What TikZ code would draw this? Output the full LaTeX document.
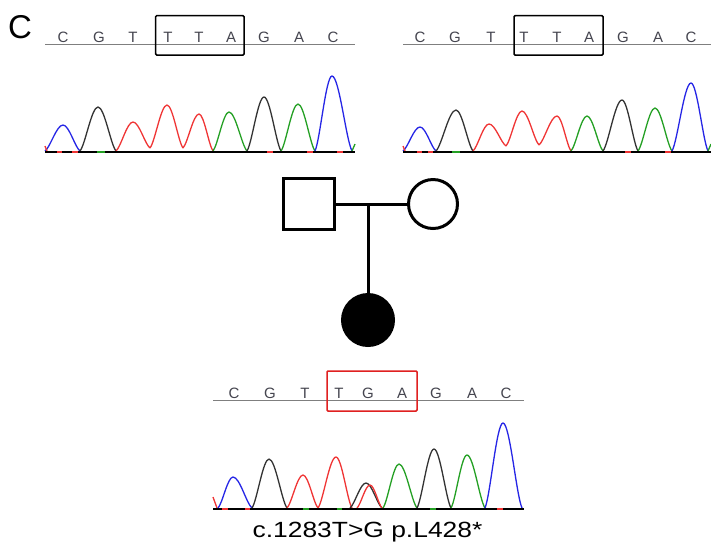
\documentclass[tikz,border=0pt]{standalone}
\usepackage{fontspec}
\setmainfont{Liberation Sans}
\definecolor{tblue}{HTML}{2626E6}
\definecolor{tblack}{HTML}{333333}
\definecolor{tred}{HTML}{F03535}
\definecolor{tgreen}{HTML}{24A024}
\definecolor{tgray}{HTML}{7F7F7F}
\definecolor{tlet}{HTML}{45454F}
\definecolor{tbox}{HTML}{E02020}
\newcommand\pk[7]{%
 \pgfmathsetmacro\pkda{#4-#2}\pgfmathsetmacro\pkdb{#6-#4}%
 \pgfmathsetmacro\pkax{#2+0.3*\pkda}\pgfmathsetmacro\pkay{#3+0.15*(#5-#3)}%
 \pgfmathsetmacro\pkbx{#4-0.36*\pkda}%
 \pgfmathsetmacro\pkcx{#4+0.36*\pkdb}%
 \pgfmathsetmacro\pkdx{#6-0.3*\pkdb}\pgfmathsetmacro\pkdy{#7+0.15*(#5-#7)}%
 \draw[peak,#1] (#2,#3) .. controls (\pkax,\pkay) and (\pkbx,#5) .. (#4,#5) .. controls (\pkcx,#5) and (\pkdx,\pkdy) .. (#6,#7);}
\tikzset{
 peak/.style={line width=1.3pt, line join=round},
 seqline/.style={tgray, line width=1.5pt},
 base/.style={black, line width=2.6pt},
 tick/.style={line width=1.6pt},
 let/.style={font=\fontsize{15}{15}\selectfont, text=tlet, anchor=base, inner sep=0pt},
 codon/.style={line width=1.5pt, rounded corners=1pt},
 ped/.style={draw, line width=3pt, inner sep=0pt},
}
\begin{document}
\begin{tikzpicture}[x=1pt,y=-1pt]
\useasboundingbox[fill=white] (0,0) rectangle (711,550);
\node[font=\fontsize{33}{33}\selectfont, anchor=base, inner sep=0pt] (lab) at (20,38) {C};
% ---------- top-left trace
\draw[seqline] (45,44.5) -- (355,44.5);
\foreach \x/\l [count=\i] in {63/C,99/G,133/T,168/T,199/T,231/A,264/G,299/A,333/C}
  \node[let] (tl\i) at (\x,42.5) {\l};
\draw[codon] (155.7,15.7) rectangle (244,55);
\pk{tblue}{45}{151}{63}{125}{80}{151}
\pk{tblack}{80}{151}{98}{107}{116}{151}
\pk{tred}{116}{151}{133}{122}{150}{148}
\pk{tred}{150}{148}{167}{105}{183}{148}
\pk{tred}{183}{148}{199}{114}{213}{151}
\pk{tgreen}{213}{151}{229}{112}{247}{151}
\pk{tblack}{247}{151}{264}{97}{281}{151}
\pk{tgreen}{281}{151}{298}{104}{315}{151}
\pk{tblue}{315}{151}{332}{76}{352}{151}
\draw[peak,tgreen] (352,151) -- (355,144);
\draw[peak,tred] (45,146) -- (47,151);
\draw[base] (45,152) -- (355,152);
\foreach \a/\b/\c in {57/62/tred,72/78/tred,97/105/tgreen,267/273/tred,307/313/tred,337/343/tred}
  \draw[tick,\c] (\a,152) -- (\b,152);
% ---------- top-right trace
\draw[seqline] (403,44.5) -- (711,44.5);
\foreach \x/\l [count=\i] in {420/C,455/G,491/T,524/T,557/T,589/A,623/G,658/A,691/C}
  \node[let] (tr\i) at (\x,42.5) {\l};
\draw[codon] (514,15.7) rectangle (603,55);
\pk{tblue}{403}{151}{420}{127}{436}{151}
\pk{tblack}{436}{151}{456}{110}{473}{151}
\pk{tred}{473}{151}{489}{124}{506}{146}
\pk{tred}{506}{146}{522}{111}{539}{145}
\pk{tred}{539}{145}{557}{116}{571}{151}
\pk{tgreen}{571}{151}{587}{116}{603}{151}
\pk{tblack}{603}{151}{622}{100}{638}{151}
\pk{tgreen}{638}{151}{655}{108}{672}{151}
\pk{tblue}{672}{151}{691}{83}{708}{151}
\draw[peak,tgreen] (708,151) -- (711,144);
\draw[peak,tred] (403,146) -- (405,151);
\draw[base] (403,152) -- (711,152);
\foreach \a/\b/\c in {417/422/tred,428/433/tred,452/460/tgreen,625/631/tred,665/671/tred}
  \draw[tick,\c] (\a,152) -- (\b,152);
% ---------- pedigree
\node[ped, rectangle, minimum size=51pt] (fa) at (309,204) {};
\node[ped, circle, minimum size=49pt] (mo) at (433,204) {};
\node[ped, circle, fill=black, minimum size=51pt] (ch) at (368,320) {};
\draw[line width=3pt] (fa.east) -- (mo.west);
\coordinate (mid) at (368,204);
\draw[line width=3pt] (mid) -- (ch.north);
% ---------- bottom trace
\draw[seqline] (213,400.5) -- (524,400.5);
\foreach \x/\l [count=\i] in {234/C,270/G,305/T,339/T,368/G,402/A,436/G,472/A,506/C}
  \node[let] (bt\i) at (\x,398.5) {\l};
\draw[codon,tbox] (327,371) rectangle (417,411);
\draw[peak,tred] (213,497) -- (217,508);
\pk{tblue}{218}{508}{233}{477}{252}{508}
\pk{tblack}{252}{508}{269}{459}{287}{508}
\pk{tred}{287}{508}{303}{475}{318}{508}
\pk{tred}{318}{508}{336}{457}{352}{508}
\pk{tblack}{350}{508}{366}{483}{382}{508}
\pk{tred}{357}{508}{370}{485}{382}{508}
\pk{tgreen}{383}{508}{399}{464}{417}{508}
\pk{tblack}{417}{508}{434}{449}{451}{508}
\pk{tgreen}{451}{508}{467}{455}{485}{508}
\pk{tblue}{485}{508}{503}{423}{522}{508}
\draw[base] (213,509) -- (524,509);
\foreach \a/\b/\c in {222/228/tred,245/250/tred,303/309/tgreen,337/342/tgreen,430/436/tgreen,497/503/tred}
  \draw[tick,\c] (\a,509) -- (\b,509);
\node[font=\fontsize{22}{22}\selectfont, xscale=1.2, anchor=base, inner sep=0pt] (mut) at (367.5,537) {c.1283T>G p.L428*};
\end{tikzpicture}
\end{document}
